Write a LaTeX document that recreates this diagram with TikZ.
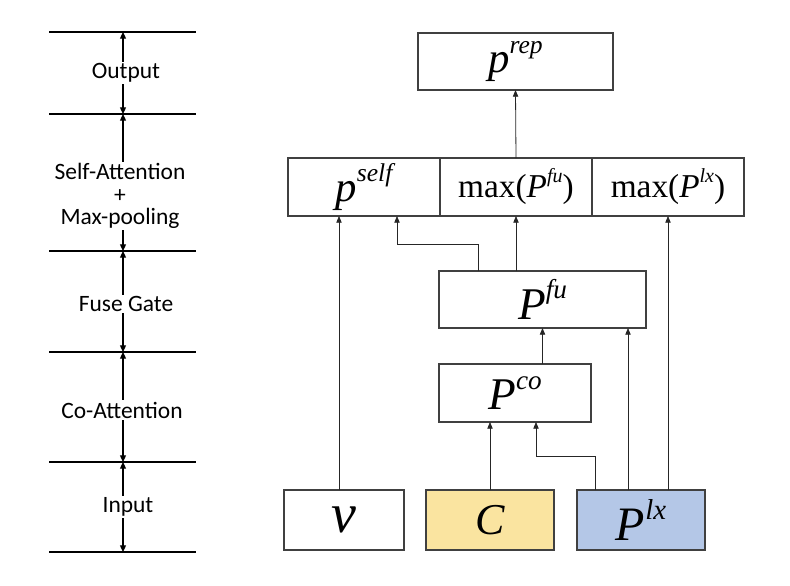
\documentclass[tikz,border=0pt]{standalone}
\usepackage{fontspec}
\setmainfont{Liberation Serif}
\newfontfamily\calibri{Carlito}
\usetikzlibrary{arrows.meta,positioning}
\definecolor{ctxyellow}{RGB}{250,228,160}
\definecolor{lexblue}{RGB}{180,199,231}
\newcommand{\supr}[1]{\raisebox{0.45em}{\scalebox{0.6}{\itshape #1}}}

\begin{document}
\begin{tikzpicture}[x=0.75pt,y=-0.75pt]
\tikzstyle{box}=[draw=black!75, line width=0.8pt, shape=rectangle, inner sep=0pt, outer sep=0pt]
\tikzstyle{layer}=[font=\calibri\fontsize{17.6}{16.8}\selectfont, fill=white, inner sep=1pt, align=center]
\tikzstyle{flow}=[draw=black!85, line width=0.6pt, -{Triangle[length=5pt,width=4pt]}]
\tikzstyle{span}=[line width=0.9pt, {Triangle[length=5pt,width=4.5pt]}-{Triangle[length=5pt,width=4.5pt]}]
\useasboundingbox (0,0) rectangle (790,586);

% layers on the left
\draw[line width=1.2pt] (49,32) -- (196,32);
\draw[line width=1.2pt] (49,114) -- (196,114);
\draw[line width=1.2pt] (49,251) -- (196,251);
\draw[line width=1.2pt] (49,352) -- (196,352);
\draw[line width=1.2pt] (49,462) -- (196,462);
\draw[line width=1.2pt] (49,552) -- (196,552);
\coordinate (l0) at (123,32);
\coordinate (l1) at (123,114);
\coordinate (l2) at (123,251);
\coordinate (l3) at (123,352);
\coordinate (l4) at (123,462);
\coordinate (l5) at (123,552);
\draw[span] (l0) -- (l1);
\draw[span] (l1) -- (l2);
\draw[span] (l2) -- (l3);
\draw[span] (l3) -- (l4);
\draw[span] (l4) -- (l5);
\node[layer] (out) at (126,73) {Output};
\node[layer] (att) at (120,196) {Self-Attention\\+\\Max-pooling};
\node[layer] (gate) at (126,304) {Fuse Gate};
\node[layer] (coatt) at (122,410) {Co-Attention};
\node[layer] (inp) at (128,507) {Input};

% model
\node[box, minimum width=146.25pt, minimum height=42.75pt, font=\fontsize{32}{34}\selectfont\itshape] (rep) at (515.5,61.5) {p\supr{rep}};
\node[box, minimum width=114pt, minimum height=43.5pt, font=\fontsize{25}{27}\selectfont] (maxfu) at (516,187) {max(\textit{P}\supr{fu})};
\node[box, minimum width=114pt, minimum height=43.5pt, font=\fontsize{32}{34}\selectfont\itshape] (self) [left=0pt of maxfu] {p\supr{self}};
\node[box, minimum width=114pt, minimum height=43.5pt, font=\fontsize{25}{27}\selectfont] (maxlx) [right=0pt of maxfu] {max(\textit{P}\supr{lx})};
\node[box, minimum width=155.25pt, minimum height=42.75pt, font=\fontsize{34}{36}\selectfont\itshape] (fu) at (542.5,299.5) {P\supr{fu}};
\node[box, minimum width=114pt, minimum height=43.5pt, font=\fontsize{34}{36}\selectfont\itshape] (co) at (515,393) {P\supr{co}};
\node[box, minimum width=90pt, minimum height=45pt, font=\fontsize{42}{44}\selectfont\itshape] (v) at (344,520) {v};
\node[box, fill=ctxyellow, minimum width=96pt, minimum height=45pt, font=\fontsize{33}{35}\selectfont\itshape] (ctx) at (490,520) {C};
\node[box, fill=lexblue, minimum width=96pt, minimum height=45pt, font=\fontsize{36}{38}\selectfont\itshape] (lx) at (641,520) {P\supr{lx}};

\draw[flow] ([xshift=-3.75pt]v.north) -- ([xshift=-3.75pt]v.north |- self.south);
\draw[flow] ([xshift=-48.4pt]fu.north) -- ++(0,-27) -| ([xshift=24.75pt]self.south);
\draw[flow] (maxfu.south |- fu.north) -- (maxfu.south);
\draw[flow] (maxlx.south |- lx.north) -- (maxlx.south);
\draw[flow] ([xshift=-9.75pt]lx.north) -- ([xshift=-9.75pt]lx.north |- fu.south);
\draw[flow] (co.north -| fu.south) -- (fu.south);
\draw[flow] (ctx.north) -- (ctx.north |- co.south);
\draw[flow] ([xshift=-34.5pt]lx.north) -- ++(0,-34) -| ([xshift=15.75pt]co.south);
\draw[flow] (maxfu.north) -- (rep.south);

\end{tikzpicture}
\end{document}
